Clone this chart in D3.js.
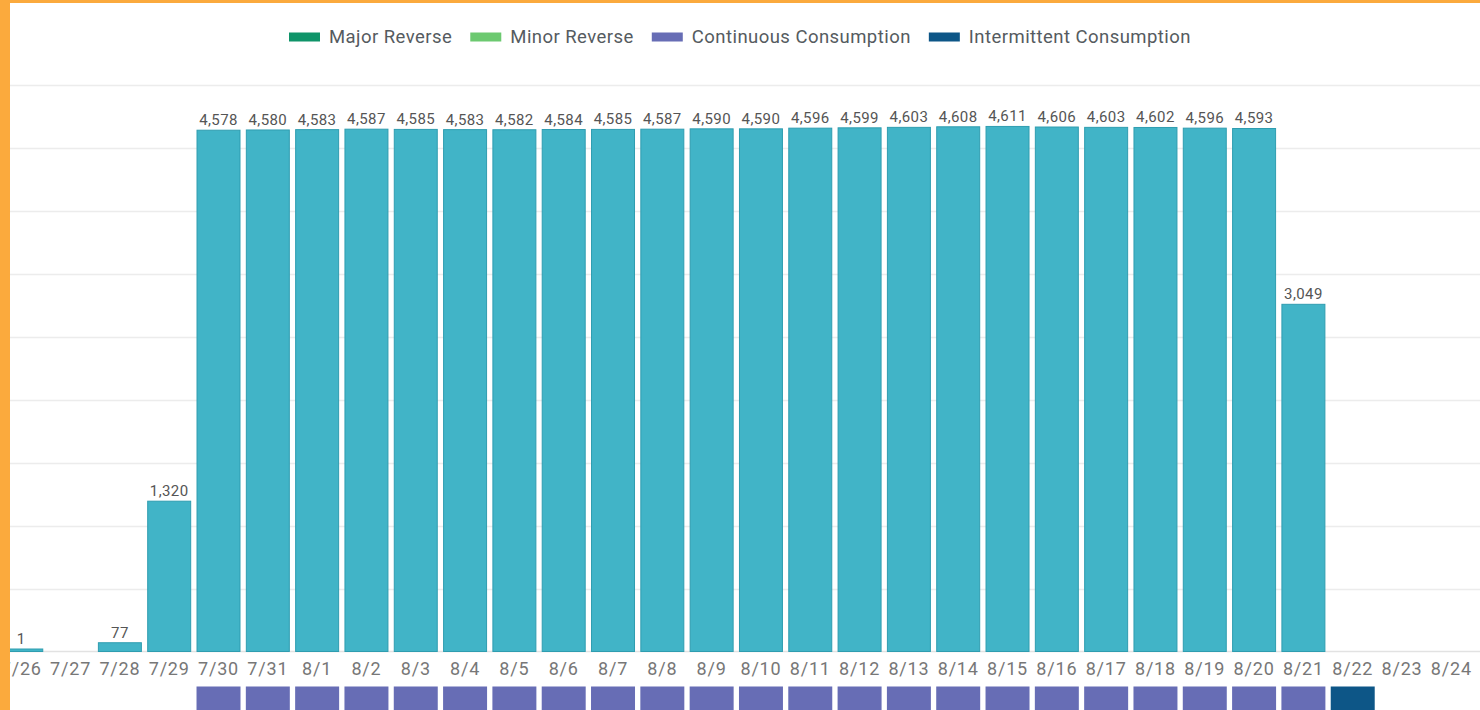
<!DOCTYPE html>
<html>
<head>
<meta charset="utf-8">
<script src="https://cdn.jsdelivr.net/npm/d3@7"></script>
<style>
  html, body { margin: 0; padding: 0; background: #fff; }
  svg { display: block; }
  text { font-family: Roboto, "Open Sans", sans-serif; }
</style>
</head>
<body>
<svg id="chart" width="1480" height="710"></svg>
<script>
// ---- data ----
const categories = ["7/26","7/27","7/28","7/29","7/30","7/31","8/1","8/2","8/3","8/4","8/5","8/6","8/7","8/8","8/9","8/10","8/11","8/12","8/13","8/14","8/15","8/16","8/17","8/18","8/19","8/20","8/21","8/22","8/23","8/24"];
const values = [1, null, 77, 1320, 4578, 4580, 4583, 4587, 4585, 4583, 4582, 4584, 4585, 4587, 4590, 4590, 4596, 4599, 4603, 4608, 4611, 4606, 4603, 4602, 4596, 4593, 3049, null, null, null];
// consumption type per day shown in the strip below the axis
const consumption = [null, null, null, null, "Continuous Consumption","Continuous Consumption","Continuous Consumption","Continuous Consumption","Continuous Consumption","Continuous Consumption","Continuous Consumption","Continuous Consumption","Continuous Consumption","Continuous Consumption","Continuous Consumption","Continuous Consumption","Continuous Consumption","Continuous Consumption","Continuous Consumption","Continuous Consumption","Continuous Consumption","Continuous Consumption","Continuous Consumption","Continuous Consumption","Continuous Consumption","Continuous Consumption","Continuous Consumption","Intermittent Consumption", null, null];
const legendNames = ["Major Reverse", "Minor Reverse", "Continuous Consumption", "Intermittent Consumption"];
const legendColors = ["#0f9469", "#6cc970", "#676db5", "#0d5687"];
const yMax = 4975;
const gridCount = 9;

// ---- layout ----
const svg = d3.select("#chart");
const W = 1480, H = 710;
const baseY = 651.5, topY = 85;

const x = d3.scaleBand().domain(categories).range([-3.4, 1476]).paddingInner(0.108).paddingOuter(0.054);
const y = d3.scaleLinear().domain([0, yMax]).range([baseY, topY]);
const color = d3.scaleOrdinal().domain(legendNames).range(legendColors);

// grid lines
const gridVals = d3.range(1, gridCount + 1).map(i => i * yMax / gridCount);
svg.append("g").selectAll("line").data(gridVals).join("line")
  .attr("x1", 10).attr("x2", W)
  .attr("y1", d => Math.round(y(d)) + 0.5).attr("y2", d => Math.round(y(d)) + 0.5)
  .attr("stroke", "#ececec").attr("stroke-width", 1.5);
// baseline
svg.append("line").attr("x1", 10).attr("x2", W)
  .attr("y1", baseY).attr("y2", baseY)
  .attr("stroke", "#e2e2e2").attr("stroke-width", 1.5);

// bars
const barData = categories.map((c, i) => ({c, v: values[i]})).filter(d => d.v != null);
svg.append("g").selectAll("rect").data(barData).join("rect")
  .attr("x", d => x(d.c) + 0.5)
  .attr("width", x.bandwidth() - 1)
  .attr("y", d => Math.min(y(d.v), baseY - 2.5))
  .attr("height", d => baseY - Math.min(y(d.v), baseY - 2.5))
  .attr("fill", "#41b4c7")
  .attr("stroke", "#2f9db0").attr("stroke-width", 1);

// value labels
const fmt = d3.format(",");
svg.append("g").selectAll("text").data(barData).join("text")
  .attr("x", d => x(d.c) + x.bandwidth() / 2)
  .attr("y", d => Math.min(y(d.v), baseY - 2.5) - 5)
  .attr("text-anchor", "middle")
  .attr("font-size", 15)
  .attr("letter-spacing", 0.4)
  .attr("fill", "#555")
  .text(d => fmt(d.v));

// x axis
const xAxis = d3.axisBottom(x).tickSize(0).tickPadding(0);
const gx = svg.append("g").attr("transform", `translate(0,${baseY})`).call(xAxis);
gx.select(".domain").remove();
gx.selectAll("text")
  .attr("y", 23.5)
  .attr("dy", 0)
  .attr("font-size", 18)
  .attr("letter-spacing", 0.8)
  .attr("font-family", "Roboto, sans-serif")
  .attr("fill", "#777");

// consumption strip
const stripData = categories.map((c, i) => ({c, t: consumption[i]})).filter(d => d.t);
svg.append("g").selectAll("rect").data(stripData).join("rect")
  .attr("x", d => x(d.c))
  .attr("width", x.bandwidth())
  .attr("y", 686.5)
  .attr("height", 30)
  .attr("fill", d => color(d.t));

// legend
const lg = svg.append("g");
let cx = 0;
legendNames.forEach(n => {
  const g = lg.append("g").attr("transform", `translate(${cx},0)`);
  g.append("rect").attr("x", 0).attr("y", -4.5).attr("width", 31).attr("height", 9)
    .attr("fill", color(n));
  const t = g.append("text").attr("x", 40).attr("y", 0).attr("dy", "0.35em")
    .attr("font-size", 18.5).attr("letter-spacing", 0.45).attr("fill", "#555b60").text(n);
  const tw = t.node().getComputedTextLength();
  cx += 40 + tw + 18;
});
const totalW = cx - 18;
lg.attr("transform", `translate(${740 - totalW / 2},37)`);

// orange frame
svg.append("rect").attr("x", 0).attr("y", 0).attr("width", 10).attr("height", H).attr("fill", "#fbaa3d");
svg.append("rect").attr("x", 0).attr("y", 0).attr("width", W).attr("height", 3).attr("fill", "#fbaa3d");
</script>
</body>
</html>
